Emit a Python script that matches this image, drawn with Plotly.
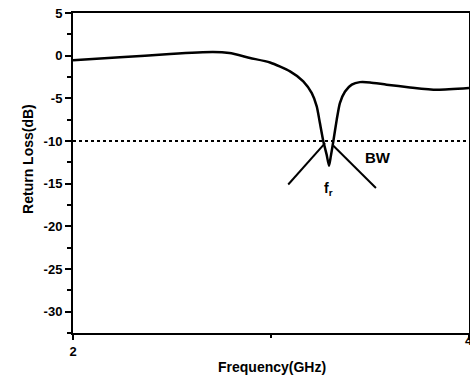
import plotly.graph_objects as go

# Data
freq_ghz = [2.00, 2.237, 2.49, 2.707, 2.79, 2.894, 2.995, 3.096, 3.163, 3.206, 3.231,
            3.247, 3.264, 3.281, 3.293, 3.302, 3.315, 3.332, 3.348, 3.374, 3.408,
            3.449, 3.50, 3.584, 3.702, 3.837, 4.00]
return_loss_db = [-0.55, -0.2, 0.2, 0.43, 0.3, -0.27, -0.8, -1.84, -3.0, -4.4, -5.95,
                  -7.9, -10.0, -11.6, -12.9, -11.8, -10.0, -7.5, -5.55, -4.2, -3.4,
                  -3.1, -3.13, -3.4, -3.72, -4.0, -3.8]

threshold_x = [2.0, 4.0]
threshold_y = [-10.0, -10.0]

bw_left_x = [3.087, 3.273]
bw_left_y = [-15.1, -10.25]
bw_right_x = [3.315, 3.53]
bw_right_y = [-10.56, -15.5]

x_range = [2.0, 4.0]
y_range = [-32.5, 5.0]
x_tickvals = [2, 4]
x_ticktext = ["2", "4"]
y_tickvals = [-30, -25, -20, -15, -10, -5, 0, 5]

FONT = "Arial, 'Liberation Sans', sans-serif"

fig = go.Figure()
fig.add_trace(go.Scatter(x=threshold_x, y=threshold_y, mode="lines",
                         line=dict(color="black", width=2, dash="dot"),
                         hoverinfo="skip", showlegend=False))
fig.add_trace(go.Scatter(x=freq_ghz, y=return_loss_db, mode="lines",
                         line=dict(color="black", width=2.5, shape="spline", smoothing=0.6),
                         showlegend=False))
fig.add_trace(go.Scatter(x=bw_left_x, y=bw_left_y, mode="lines",
                         line=dict(color="black", width=2), showlegend=False))
fig.add_trace(go.Scatter(x=bw_right_x, y=bw_right_y, mode="lines",
                         line=dict(color="black", width=2), showlegend=False))

fig.add_annotation(x=3.54, y=-11.95, text="<b>BW</b>", showarrow=False,
                   font=dict(family=FONT, size=15, color="black"))
fig.add_annotation(x=3.29, y=-15.6, text="<b>f<sub>r</sub></b>", showarrow=False,
                   font=dict(family=FONT, size=14, color="black"))

# right-most tick label (partly cut by the page edge, as in the reference)
fig.add_annotation(x=x_tickvals[-1], y=0, xref="x", yref="paper", yshift=-17,
                   text=f"<b>{x_ticktext[-1]}</b>", showarrow=False,
                   font=dict(family=FONT, size=13, color="black"))

fig.add_annotation(x=0.5025, y=-0.1375, xref="paper", yref="paper",
                   text="<b>Frequency(GHz)</b>", showarrow=False,
                   font=dict(family=FONT, size=14, color="black"))
fig.add_annotation(x=-0.139, y=0.544, xref="paper", yref="paper",
                   text="<b>Return Loss(dB)</b>", showarrow=False, textangle=-90,
                   font=dict(family=FONT, size=14, color="black"))

fig.update_layout(
    width=470, height=387,
    margin=dict(l=73, r=1, t=13, b=54, autoexpand=False),
    paper_bgcolor="white", plot_bgcolor="white",
    font=dict(family=FONT, size=13, color="black"),
)
fig.update_xaxes(range=x_range, tickvals=x_tickvals,
                 ticktext=[f"<b>{t}</b>" for t in x_ticktext],
                 automargin=False,
                 ticks="outside", ticklen=5, tickwidth=2, tickcolor="black",
                 minor=dict(ticks="outside", ticklen=3, tickwidth=2, dtick=1, tickcolor="black"),
                 showline=True, linewidth=2, linecolor="black", mirror=True,
                 showgrid=False, zeroline=False)
fig.update_yaxes(range=y_range, tickvals=y_tickvals,
                 ticktext=[f"<b>{v}</b>" for v in y_tickvals],
                 automargin=False,
                 ticks="outside", ticklen=6, tickwidth=2, tickcolor="black",
                 minor=dict(ticks="outside", ticklen=4, tickwidth=2, dtick=2.5, tick0=0,
                            tickcolor="black"),
                 showline=True, linewidth=2, linecolor="black", mirror=True,
                 showgrid=False, zeroline=False)

fig.write_html("out.html", config={"displayModeBar": False},
               post_script="document.body.style.margin='0';document.body.style.overflow='hidden';")
